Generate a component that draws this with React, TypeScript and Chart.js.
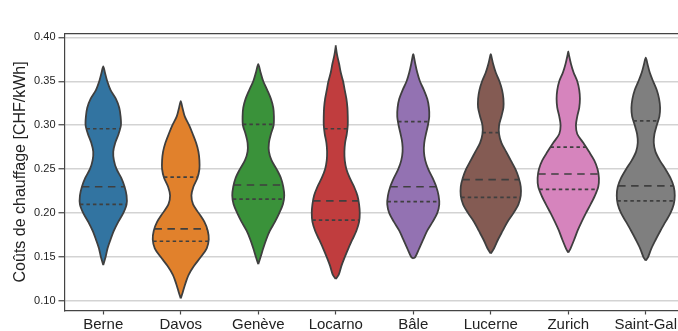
import React, { useEffect, useRef } from 'react';
import { Chart, registerables } from 'chart.js';
Chart.register(...registerables);

const FONT = "'Liberation Sans', Arial, Helvetica, sans-serif";

const cities = ['Berne', 'Davos', 'Genève', 'Locarno', 'Bâle', 'Lucerne', 'Zurich', 'Saint-Gal'];
const colors = ['#3274a1', '#e1812c', '#3a923a', '#c03d3e', '#9372b2', '#845b53', '#d684bd', '#7f7f7f'];

// density levels (CHF/kWh)
const levels = [0.10, 0.11, 0.12, 0.13, 0.14, 0.15, 0.16, 0.17, 0.18, 0.19,
  0.20, 0.21, 0.22, 0.23, 0.24, 0.25, 0.26, 0.27, 0.28, 0.29,
  0.30, 0.31, 0.32, 0.33, 0.34, 0.35, 0.36, 0.37, 0.38, 0.39];

// estimated kernel density (relative) at each level
const berne = [0, 0, 0, 0, 0, 0.07, 0.13, 0.22, 0.32, 0.45, 0.60, 0.70, 0.70, 0.64, 0.54, 0.40, 0.32, 0.30, 0.36, 0.46, 0.53, 0.52, 0.48, 0.38, 0.22, 0.12, 0.05, 0, 0, 0];
const davos = [0, 0.06, 0.14, 0.24, 0.40, 0.60, 0.78, 0.84, 0.81, 0.71, 0.54, 0.37, 0.32, 0.38, 0.50, 0.56, 0.56, 0.53, 0.46, 0.36, 0.25, 0.12, 0.05, 0, 0, 0, 0, 0, 0, 0];
const geneve = [0, 0, 0, 0, 0, 0.07, 0.15, 0.24, 0.35, 0.50, 0.63, 0.74, 0.78, 0.75, 0.68, 0.55, 0.40, 0.32, 0.32, 0.38, 0.46, 0.47, 0.45, 0.38, 0.27, 0.15, 0.07, 0, 0, 0];
const locarno = [0, 0, 0, 0.09, 0.17, 0.27, 0.38, 0.50, 0.62, 0.70, 0.72, 0.70, 0.65, 0.55, 0.42, 0.32, 0.27, 0.26, 0.28, 0.33, 0.36, 0.36, 0.35, 0.32, 0.27, 0.22, 0.15, 0.10, 0.04, 0];
const bale = [0, 0, 0, 0, 0, 0.06, 0.18, 0.30, 0.42, 0.58, 0.72, 0.78, 0.76, 0.69, 0.58, 0.45, 0.36, 0.32, 0.33, 0.38, 0.44, 0.48, 0.47, 0.42, 0.32, 0.20, 0.12, 0.06, 0.01, 0];
const lucerne = [0, 0, 0, 0, 0, 0, 0.10, 0.22, 0.36, 0.50, 0.68, 0.83, 0.90, 0.90, 0.84, 0.74, 0.60, 0.46, 0.32, 0.25, 0.25, 0.32, 0.38, 0.38, 0.34, 0.26, 0.15, 0.07, 0.01, 0];
const zurich = [0, 0, 0, 0, 0, 0, 0.07, 0.18, 0.28, 0.40, 0.53, 0.67, 0.80, 0.90, 0.92, 0.88, 0.78, 0.62, 0.45, 0.27, 0.23, 0.27, 0.33, 0.35, 0.33, 0.27, 0.16, 0.08, 0.02, 0];
const saintGal = [0, 0, 0, 0, 0, 0.07, 0.17, 0.30, 0.44, 0.59, 0.74, 0.84, 0.87, 0.84, 0.74, 0.59, 0.42, 0.29, 0.24, 0.26, 0.33, 0.41, 0.43, 0.40, 0.33, 0.22, 0.12, 0.05, 0, 0];
const densities = [berne, davos, geneve, locarno, bale, lucerne, zurich, saintGal];

// extent of each violin
const mins = [0.141, 0.103, 0.142, 0.125, 0.1485, 0.154, 0.155, 0.146];
const maxs = [0.367, 0.3275, 0.3696, 0.391, 0.381, 0.381, 0.384, 0.377];

// quartiles
const q1 = [0.210, 0.168, 0.216, 0.192, 0.213, 0.218, 0.227, 0.214];
const medians = [0.230, 0.182, 0.232, 0.214, 0.230, 0.238, 0.2445, 0.231];
const q3 = [0.296, 0.241, 0.301, 0.296, 0.304, 0.2915, 0.275, 0.305];

const yTicks = [0.10, 0.15, 0.20, 0.25, 0.30, 0.35, 0.40];

const DENSITY_SCALE = 0.43; // density -> half-width in category units
const EDGE = '#3f3f3f';

function profileOf(i: number) {
  const d = densities[i];
  const inner = levels
    .map((y, k) => ({ y, d: d[k] }))
    .filter((p) => p.y > mins[i] && p.y < maxs[i]);
  return [{ y: mins[i], d: 0 }, ...inner, { y: maxs[i], d: 0 }];
}

function widthAt(i: number, v: number) {
  const p = profileOf(i);
  for (let k = 0; k < p.length - 1; k++) {
    if (v >= p[k].y && v <= p[k + 1].y) {
      const t = (v - p[k].y) / (p[k + 1].y - p[k].y);
      return (p[k].d + t * (p[k + 1].d - p[k].d)) * DENSITY_SCALE;
    }
  }
  return 0;
}

export default function App() {
  const ref = useRef<HTMLCanvasElement | null>(null);

  useEffect(() => {
    document.body.style.margin = '0';
    const datasets: any[] = [];
    cities.forEach((_, i) => {
      const p = profileOf(i);
      const right = p.map((q) => ({ x: i + q.d * DENSITY_SCALE, y: q.y }));
      const left = p.slice().reverse().map((q) => ({ x: i - q.d * DENSITY_SCALE, y: q.y }));
      datasets.push({
        data: [...right, ...left.slice(1)],
        fill: 'shape',
        backgroundColor: colors[i],
        borderColor: EDGE,
        borderWidth: 1.8,
        pointRadius: 0,
        tension: 0.3,
        order: 2,
      });
      const quarts: [number, number[]][] = [
        [q1[i], [3.5, 3]],
        [medians[i], [7.5, 5.5]],
        [q3[i], [3.5, 3]],
      ];
      quarts.forEach(([v, dash]) => {
        const w = widthAt(i, v);
        datasets.push({
          data: [{ x: i - w, y: v }, { x: i + w, y: v }],
          borderColor: EDGE,
          borderWidth: 1.7,
          borderDash: dash,
          pointRadius: 0,
          tension: 0,
          fill: false,
          order: 1,
        });
      });
    });

    const xMin = -0.5;
    const xMax = 7.416;

    const chart = new Chart(ref.current as HTMLCanvasElement, {
      type: 'line',
      data: { datasets },
      options: {
        responsive: false,
        animation: false,
        devicePixelRatio: 1,
        layout: { padding: { top: 33.3, right: 0, bottom: 0, left: 0 } },
        plugins: { legend: { display: false }, tooltip: { enabled: false } },
        scales: {
          x: {
            type: 'linear',
            min: xMin,
            max: xMax,
            afterBuildTicks: (s: any) => {
              s.ticks = cities.map((_, i) => ({ value: i }));
            },
            ticks: {
              callback: (v: any) => cities[v] ?? '',
              autoSkip: false,
              maxRotation: 0,
              minRotation: 0,
              padding: 1.5,
              color: '#222222',
              font: { size: 15, family: FONT },
            },
            grid: { drawOnChartArea: false, drawTicks: true, tickLength: 4, tickColor: '#444', tickWidth: 1.2 },
            border: { display: true, color: '#444', width: 1.2 },
            afterFit: (s: any) => {
              s.height = 20.5;
              s.paddingLeft = 0;
              s.paddingRight = 0;
            },
          },
          xTop: {
            type: 'linear',
            position: 'top',
            min: xMin,
            max: xMax,
            ticks: { display: false },
            grid: { drawOnChartArea: false, drawTicks: false },
            border: { display: true, color: '#444', width: 1.2 },
            afterFit: (s: any) => {
              s.height = 0;
              s.paddingLeft = 0;
              s.paddingRight = 0;
            },
          },
          y: {
            type: 'linear',
            min: 0.0892,
            max: 0.4046,
            afterBuildTicks: (s: any) => {
              s.ticks = yTicks.map((v) => ({ value: v }));
            },
            ticks: {
              callback: (v: any) => Number(v).toFixed(2),
              padding: 3,
              color: '#222222',
              font: { size: 11, family: FONT },
            },
            grid: { color: '#d3d3d3', lineWidth: 1.5, tickLength: 6, tickColor: '#444', tickWidth: 1.2 },
            border: { display: true, color: '#444', width: 1.2 },
            title: {
              display: true,
              text: 'Coûts de chauffage [CHF/kWh]',
              color: '#222222',
              font: { size: 16, family: FONT },
              padding: { top: 11, bottom: 0 },
            },
            afterFit: (s: any) => {
              s.width = 64.5;
              s.paddingTop = 0;
              s.paddingBottom = 0;
            },
          },
        },
      } as any,
    });
    return () => chart.destroy();
  }, []);

  return (
    <div style={{ width: 678, height: 331 }}>
      <canvas ref={ref} width={678} height={331} style={{ display: 'block' }} />
    </div>
  );
}
